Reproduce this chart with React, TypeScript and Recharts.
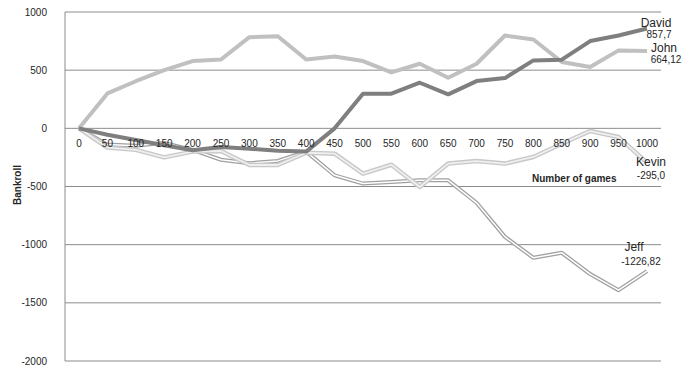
import React from "react";
import { LineChart, Line, XAxis, YAxis, CartesianGrid, ReferenceDot, LabelList } from "recharts";

// Number of games played (category axis)
const games = [0, 50, 100, 150, 200, 250, 300, 350, 400, 450, 500, 550, 600, 650, 700, 750, 800, 850, 900, 950, 1000];

// Bankroll per player after each block of games
const john = [0, 300, 405, 500, 578, 592, 784, 792, 592, 618, 578, 481, 555, 435, 555, 798, 764, 570, 527, 670, 664.12];
const david = [0, -55, -100, -146, -189, -160, -175, -193, -200, 0, 298, 298, 392, 292, 406, 432, 584, 590, 750, 798, 857.7];
const kevin = [0, -165, -185, -250, -200, -195, -315, -315, -210, -218, -390, -313, -504, -303, -281, -303, -246, -132, -23, -75, -295.0];
const jeff = [0, -140, -150, -125, -185, -270, -300, -280, -200, -404, -475, -461, -447, -447, -640, -933, -1113, -1070, -1253, -1391, -1226.82];

const yTicks = [-2000, -1500, -1000, -500, 0, 500, 1000];

// Decimals shown in each end label
const decimals: Record<string, number> = { David: 1, John: 2, Kevin: 1, Jeff: 2 };

const data = games.map((g, i) => ({
  games: g,
  John: john[i],
  David: david[i],
  Kevin: kevin[i],
  Jeff: jeff[i],
}));

const FONT = "'Liberation Sans', Arial, sans-serif";
const TEXT = "#262626";
const GRID = "#8c8c8c";

// Offsets of the name/value label pair from the last point of each series
const endLabelPos: Record<string, { nx: number; ny: number; vx: number; vy: number }> = {
  David: { nx: 9, ny: -2, vx: 12, vy: 9 },
  John: { nx: 17, ny: 1, vx: 19, vy: 12 },
  Kevin: { nx: 4, ny: 3, vx: 4, vy: 16 },
  Jeff: { nx: -13, ny: -20, vx: -6, vy: -6 },
};

const formatValue = (name: string, v: number) => v.toFixed(decimals[name]).replace(".", ",");

const makeEndLabel = (name: string) => (props: any) => {
  const { x, y, index, value } = props;
  if (index !== games.length - 1) return null;
  const p = endLabelPos[name];
  return (
    <g fontFamily={FONT}>
      <text x={x + p.nx} y={y + p.ny} textAnchor="middle" fontSize={12} fill={TEXT}>
        {name}
      </text>
      <text x={x + p.vx} y={y + p.vy} textAnchor="middle" fontSize={10} fill={TEXT}>
        {formatValue(name, Number(value))}
      </text>
    </g>
  );
};

// Value-axis tick, right-aligned a little away from the axis line
const YTick = (props: any) => {
  const { x, y, payload } = props;
  return (
    <text x={x - 10} y={y} dy="0.35em" textAnchor="end" fontSize={10} fill={TEXT} fontFamily={FONT}>
      {payload.value}
    </text>
  );
};

export default function App() {
  return (
    <div style={{ position: "absolute", left: 0, top: 0, width: 699, height: 367, background: "#fff" }}>
      <LineChart
        width={699}
        height={367}
        data={data}
        margin={{ top: 12, right: 38, bottom: 6, left: 0 }}
      >
        <CartesianGrid horizontal vertical={false} stroke={GRID} strokeWidth={1} />
        <XAxis dataKey="games" type="category" hide padding={{ left: 14, right: 14 }} />
        <YAxis
          width={65}
          domain={[-2000, 1000]}
          ticks={yTicks}
          interval={0}
          tickLine={false}
          axisLine={{ stroke: GRID }}
          tick={<YTick />}
        />
        {/* Jeff: darker double line */}
        <Line dataKey="Jeff" stroke="#a0a0a0" strokeWidth={4} dot={false} isAnimationActive={false} strokeLinejoin="round" />
        <Line dataKey="Jeff" stroke="#ffffff" strokeWidth={1.5} dot={false} isAnimationActive={false} strokeLinejoin="round">
          <LabelList dataKey="Jeff" content={makeEndLabel("Jeff")} />
        </Line>
        {/* Kevin: light double line */}
        <Line dataKey="Kevin" stroke="#c8c8c8" strokeWidth={4.5} dot={false} isAnimationActive={false} strokeLinejoin="round" />
        <Line dataKey="Kevin" stroke="#efefef" strokeWidth={1.8} dot={false} isAnimationActive={false} strokeLinejoin="round">
          <LabelList dataKey="Kevin" content={makeEndLabel("Kevin")} />
        </Line>
        <Line dataKey="John" stroke="#c0c0c0" strokeWidth={4} dot={false} isAnimationActive={false} strokeLinejoin="round">
          <LabelList dataKey="John" content={makeEndLabel("John")} />
        </Line>
        <Line dataKey="David" stroke="#7f7f7f" strokeWidth={4} dot={false} isAnimationActive={false} strokeLinejoin="round">
          <LabelList dataKey="David" content={makeEndLabel("David")} />
        </Line>
        {/* Category labels sit on the zero line */}
        {games.map((g) => (
          <ReferenceDot
            key={g}
            x={g}
            y={0}
            r={0}
            fill="none"
            stroke="none"
            label={{ value: String(g), position: "bottom", offset: 12, fontSize: 10, fill: TEXT, fontFamily: FONT }}
          />
        ))}
      </LineChart>
      <div
        style={{
          position: "absolute",
          left: 532,
          top: 173,
          width: 84,
          textAlign: "center",
          fontFamily: FONT,
          fontWeight: "bold",
          fontSize: 10,
          color: TEXT,
          whiteSpace: "nowrap",
          lineHeight: "12px",
        }}
      >
        Number of games
      </div>
      <div
        style={{
          position: "absolute",
          left: 18,
          top: 185,
          transform: "translate(-50%, -50%) rotate(-90deg)",
          fontFamily: FONT,
          fontWeight: "bold",
          fontSize: 10,
          color: TEXT,
          whiteSpace: "nowrap",
          lineHeight: "12px",
        }}
      >
        Bankroll
      </div>
    </div>
  );
}
